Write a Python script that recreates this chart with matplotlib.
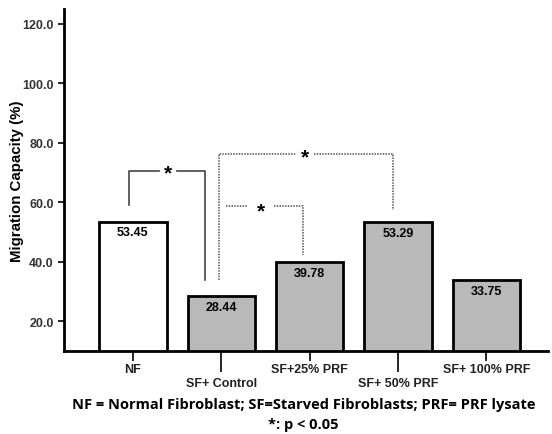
import matplotlib.pyplot as plt

groups = ["NF", "SF+ Control", "SF+25% PRF", "SF+ 50% PRF", "SF+ 100% PRF"]
values = [53.45, 28.44, 39.78, 53.29, 33.75]
colors = ["white", "#b9b9b9", "#b9b9b9", "#b9b9b9", "#b9b9b9"]
yticks = [20, 40, 60, 80, 100, 120]

plt.rcParams["font.family"] = ["Liberation Sans", "DejaVu Sans"]

fig = plt.figure(figsize=(5.52, 4.35), dpi=100)
ax = fig.add_axes([0.116, 0.191, 0.877, 0.786])

x = list(range(len(groups)))
ax.bar(x, values, width=0.76, color=colors, edgecolor="black", linewidth=2, zorder=2)

for xi, v in zip(x, values):
    ax.text(xi, v - 1.5, f"{v:.2f}", ha="center", va="top", fontsize=9, fontweight="bold")

ax.set_xlim(-0.78, 4.7)
ax.set_ylim(10, 125)
ax.set_yticks(yticks)
ax.set_yticklabels([f"{t:.1f}" for t in yticks], fontsize=9, fontweight="bold", color="#333333")
ax.set_ylabel("Migration Capacity (%)", fontsize=10.8, fontweight="bold")
ax.yaxis.set_label_coords(-0.082, 0.5)

ax.set_xticks(x)
labels = [g if i % 2 == 0 else "\n" + g for i, g in enumerate(groups)]
ax.set_xticklabels(labels, fontsize=9, fontweight="bold", color="#222222")
ax.tick_params(axis="x", length=7, width=1.2, pad=2)
ax.tick_params(axis="y", length=4, width=1.2)
for i, tk in enumerate(ax.xaxis.get_major_ticks()):
    if i % 2 == 1:
        tk.tick1line.set_markersize(15)

for side in ["top", "right"]:
    ax.spines[side].set_visible(False)
ax.spines["left"].set_linewidth(2)
ax.spines["bottom"].set_linewidth(2)

# significance brackets
dots = (0, (1, 0.8))
ax.plot([-0.05, -0.05, 0.30], [59.1, 70.5, 70.5], color="#444444", lw=1.2)
ax.plot([0.50, 0.82, 0.82], [70.5, 70.5, 33.8], color="#444444", lw=1.2)
ax.text(0.40, 70.0, "*", ha="center", va="center", fontsize=15, fontweight="bold")

ax.plot([0.97, 0.97, 1.85], [33.8, 76.2, 76.2], color="#555555", lw=1.1, ls=dots)
ax.plot([2.05, 2.94, 2.94], [76.2, 76.2, 57.4], color="#555555", lw=1.1, ls=dots)
ax.text(1.95, 75.2, "*", ha="center", va="center", fontsize=15, fontweight="bold")

ax.plot([1.05, 1.30], [58.7, 58.7], color="#555555", lw=1.1, ls=dots)
ax.plot([1.60, 1.92, 1.92], [58.7, 58.7, 42.2], color="#555555", lw=1.1, ls=dots)
ax.text(1.45, 57.0, "*", ha="center", va="center", fontsize=15, fontweight="bold")

fig.text(0.55, 0.068, "NF = Normal Fibroblast; SF=Starved Fibroblasts; PRF= PRF lysate",
         ha="center", va="center", fontsize=10.5, fontweight="bold", family=["Open Sans", "DejaVu Sans"])
fig.text(0.55, 0.022, "*: p < 0.05", ha="center", va="center", fontsize=10.5,
         fontweight="bold", family=["Open Sans", "DejaVu Sans"])

fig.savefig("out.png", dpi=100)
